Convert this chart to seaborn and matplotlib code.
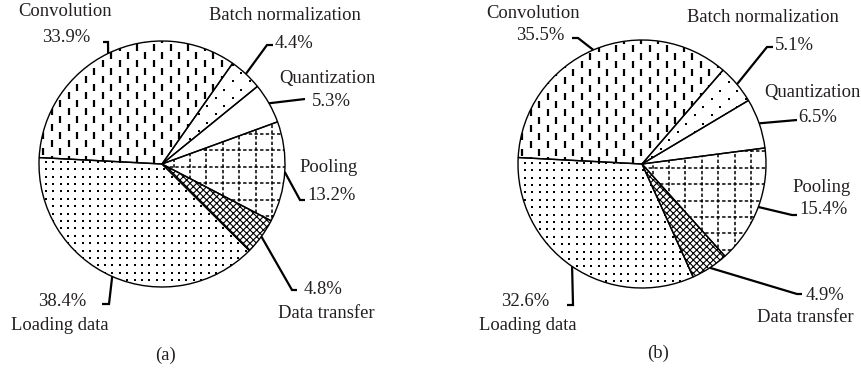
import numpy as np
import matplotlib
matplotlib.use("Agg")
import matplotlib.pyplot as plt
import seaborn as sns
from matplotlib.collections import LineCollection

# Share of run time per operation, two configurations
categories = ["Convolution", "Batch normalization", "Quantization",
              "Pooling", "Data transfer", "Loading data"]
share_a = [33.9, 4.4, 5.3, 13.2, 4.8, 38.4]
share_b = [35.5, 5.1, 6.5, 15.4, 4.9, 32.6]
panel_tags = ["(a)", "(b)"]

sns.set_theme(style="white", rc={"hatch.linewidth": 0.8})
plt.rcParams["font.family"] = ["Liberation Serif", "DejaVu Serif"]
FS = 13.4

W, H = 862, 372
fig = plt.figure(figsize=(W / 100, H / 100), dpi=100)
ax = fig.add_axes([0, 0, 1, 1])


def up(y):
    """Convert a top-origin pixel row into the axes' y coordinate."""
    return H - y


# ---- fill patterns, each clipped to its wedge -----------------------------
def fill_vdash(wedge, cx, cy, r):
    segs = []
    xs = np.arange(cx - r - 4, cx + r + 9, 8.5)
    for i, x in enumerate(xs):
        off = (i % 2) * 8.0
        for y in np.arange(cy - r - 20 + off, cy + r + 20, 16.0):
            segs.append([(x, y), (x, y + 7.0)])
    lc = LineCollection(segs, colors="black", linewidths=1.6, zorder=2,
                        capstyle="butt")
    lc.set_clip_path(wedge)
    ax.add_collection(lc)


def fill_sparse_dots(wedge, cx, cy, r):
    pts = []
    for j, y in enumerate(np.arange(cy - r - 10, cy + r + 10, 8.3)):
        off = (j % 2) * 8.5
        for x in np.arange(cx - r - 10 + off, cx + r + 10, 17.0):
            pts.append((x, y))
    pts = np.array(pts)
    sc = ax.scatter(pts[:, 0], pts[:, 1], s=3.2, marker="s", c="black",
                    linewidths=0, zorder=2)
    sc.set_clip_path(wedge)


def fill_dense_dots(wedge, cx, cy, r):
    g = np.arange(-r - 8, r + 8, 7.4)
    xx, yy = np.meshgrid(cx + g, cy + g)
    sc = ax.scatter(xx.ravel(), yy.ravel(), s=3.6, marker="s", c="black",
                    linewidths=0, zorder=2)
    sc.set_clip_path(wedge)


def fill_dashed_grid(wedge, cx, cy, r):
    segs = []
    for v in np.arange(-r - 17, r + 17, 16.4):
        segs.append([(cx + v + 4, cy - r - 5), (cx + v + 4, cy + r + 5)])
        segs.append([(cx - r - 5, cy + v + 6), (cx + r + 5, cy + v + 6)])
    lc = LineCollection(segs, colors="black", linewidths=1.1,
                        linestyles=[(0, (2.2, 1.5))], zorder=2)
    lc.set_clip_path(wedge)
    ax.add_collection(lc)


def fill_none(wedge, cx, cy, r):
    pass


def fill_crosshatch(wedge, cx, cy, r):
    wedge.set_hatch("xxxxx")


fills = [fill_vdash, fill_sparse_dots, fill_none,
         fill_dashed_grid, fill_crosshatch, fill_dense_dots]

# ---- panel geometry and label layout (top-origin pixels) ------------------
panels = [
    dict(values=share_a, center=(162, 164), radius=123, tag_pos=(166, 355),
         name_pos=[(65, 12), (285, 15), (327, 78), (329, 167), (326, 313), (60, 325)],
         pct_pos=[(66, 37), (294, 43), (331, 102), (332, 195), (323, 290), (62, 302)],
         leader=[[(108, 42), (103, 42)],
                 [(267, 45), (273, 45)],
                 [(305, 99)],
                 [(300, 200), (305, 200)],
                 [(292, 290), (297, 290)],
                 [(109, 304), (102, 304)]]),
    dict(values=share_b, center=(642, 164), radius=124, tag_pos=(658, 353),
         name_pos=[(533, 13), (763, 18), (812, 92), (822, 187), (805, 317), (528, 325)],
         pct_pos=[(540, 35), (794, 45), (818, 117), (823, 210), (825, 296), (525, 302)],
         leader=[[(578, 38), (572, 38)],
                 [(767, 47), (773, 47)],
                 [(797, 120)],
                 [(792, 215), (797, 215)],
                 [(797, 294), (802, 294)],
                 [(573, 305), (567, 305)]]),
]

for p, tag in zip(panels, panel_tags):
    cx, cy = p["center"][0], up(p["center"][1])
    r = p["radius"]
    wedges, _ = ax.pie(p["values"], center=(cx, cy), radius=r,
                       startangle=177, counterclock=False,
                       colors=["none"] * len(p["values"]),
                       wedgeprops=dict(edgecolor="black", linewidth=1.0))
    for w, fill in zip(wedges, fills):
        w.set_zorder(3)
        fill(w, cx, cy, r)

    for i, (w, name, val) in enumerate(zip(wedges, categories, p["values"])):
        mid = np.deg2rad(0.5 * (w.theta1 + w.theta2))
        ex, ey = cx + r * np.cos(mid), cy + r * np.sin(mid)
        pts = [(ex, ey)] + [(x, up(y)) for x, y in p["leader"][i]]
        xs, ys = zip(*pts)
        ax.plot(xs, ys, color="black", lw=1.6, solid_capstyle="butt",
                solid_joinstyle="miter", zorder=4)
        nx, ny = p["name_pos"][i]
        ax.text(nx, up(ny), name, ha="center", va="center", fontsize=FS,
                color="#231f20")
        px_, py_ = p["pct_pos"][i]
        ax.text(px_, up(py_), f"{val}%", ha="center", va="center",
                fontsize=FS, color="#231f20")

    tx, ty = p["tag_pos"]
    ax.text(tx, up(ty), tag, ha="center", va="center", fontsize=FS,
            color="#231f20")

ax.set_xlim(0, W)
ax.set_ylim(0, H)
ax.set_aspect("auto")
ax.axis("off")

fig.savefig("out.png", dpi=100, facecolor="white")
